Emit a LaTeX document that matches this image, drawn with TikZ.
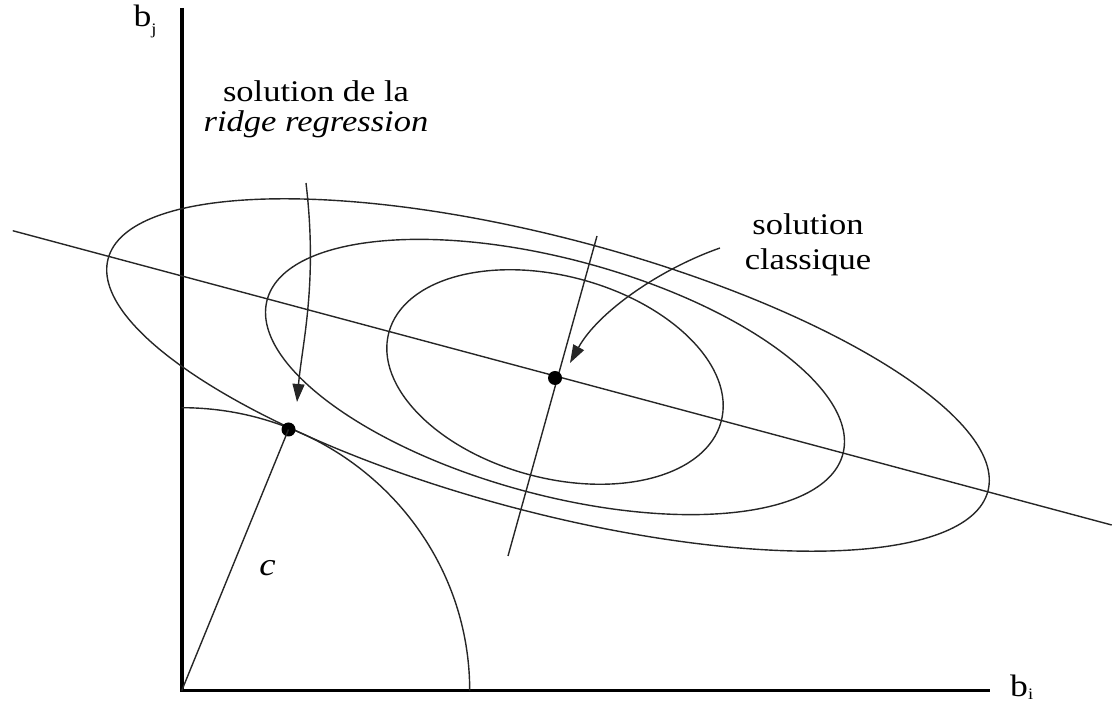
\documentclass[tikz,border=0pt]{standalone}
\usepackage{fontspec}
\setmainfont{Liberation Serif}
\usetikzlibrary{arrows.meta}
\begin{document}
\begin{tikzpicture}[x=1pt,y=1pt,
  thinline/.style={line width=1.4pt, draw=black!85},
  axis/.style={line width=3.6pt, draw=black},
  dot/.style={circle, fill=black, inner sep=0pt, minimum size=14pt},
  lab/.style={inner sep=0pt, xscale=1.15},
  pointer/.style={thinline, -{Triangle[length=18pt,width=12pt]}}
]
\useasboundingbox (0,0) rectangle (1114,704);

% axes
\coordinate (O) at (181.7,13.3);
\coordinate (ytop) at (181.7,696);
\coordinate (xend) at (990,13.3);
\draw[axis] (ytop) -- (O) -- (xend);

% quarter circle of radius c
\draw[thinline] (O) ++(288,0) arc[start angle=0, end angle=90, x radius=288, y radius=283];

% ellipses
\draw[thinline, rotate around={-14.8:(548,329)}] (548,329) ellipse[x radius=455, y radius=137];
\draw[thinline, rotate around={-15:(555,327)}] (555,327) ellipse[x radius=298, y radius=118];
\draw[thinline, rotate around={-15:(555,327)}] (555,327) ellipse[x radius=172, y radius=101];

% lines through the classical solution
\coordinate (L1) at (12.7,473.3);
\coordinate (L2) at (1111.7,179);
\draw[thinline] (L1) -- (L2);
\coordinate (P1) at (597,468);
\coordinate (P2) at (508,148);
\draw[thinline] (P1) -- (P2);

% solution points
\node[dot] (cls) at (555,326) {};
\node[dot] (rdg) at (288.5,274.5) {};
\draw[thinline] (O) -- (rdg.center);

% labels
\node[lab, anchor=base, font=\fontsize{30}{30}\selectfont] (rtxt) at (316,602)
  {\begin{tabular}[t]{@{}c@{}}solution de la\\ \textit{ridge regression}\end{tabular}};
\node[lab, anchor=base, font=\fontsize{30}{35}\selectfont] (ctxt) at (808,469)
  {\begin{tabular}[t]{@{}c@{}}solution\\ classique\end{tabular}};
\node[lab, font=\fontsize{32}{32}\selectfont\itshape] (c) at (267.5,136) {c};
\node[lab, anchor=base, font=\fontsize{31}{31}\selectfont] (bj) at (145,677) {b\raisebox{-8pt}{\fontsize{16}{16}\selectfont j}};
\node[lab, anchor=base west, font=\fontsize{31}{31}\selectfont] (bi) at (1010,7) {b\raisebox{-3pt}{\fontsize{16}{16}\selectfont i}};

% pointers
\coordinate (rs) at (306,521);
\coordinate (re) at (297,302);
\draw[pointer] (rs) .. controls (318,420) and (302,360) .. (re);
\coordinate (cs) at (720,456);
\coordinate (ce) at (570,341);
\draw[pointer] (cs) .. controls (660,435) and (598,392) .. (ce);
\end{tikzpicture}
\end{document}
